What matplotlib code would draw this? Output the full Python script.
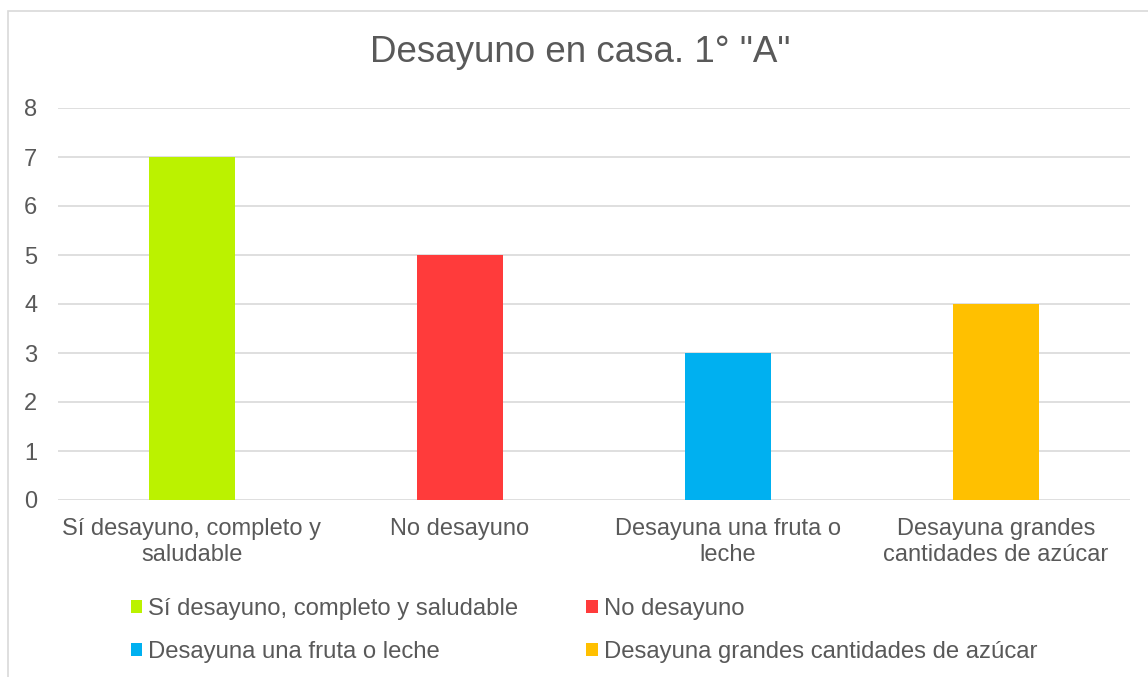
import matplotlib.pyplot as plt
from matplotlib.patches import Rectangle, Patch

# Datos
categorias = ["Sí desayuno, completo y saludable", "No desayuno",
              "Desayuna una fruta o leche", "Desayuna grandes cantidades de azúcar"]
etiquetas_x = ["Sí desayuno, completo y\nsaludable", "No desayuno",
               "Desayuna una fruta o\nleche", "Desayuna grandes\ncantidades de azúcar"]
valores = [7, 5, 3, 4]
colores = ["#BBF200", "#FF3B3B", "#00B0F0", "#FFC000"]

gris = "#595959"
plt.rcParams["font.family"] = ["Liberation Sans", "DejaVu Sans"]

fig = plt.figure(figsize=(11.48, 6.77), dpi=100)
ax = fig.add_axes([58 / 1148, 1 - 500 / 677, (1130 - 58) / 1148, (500 - 108) / 677])

x = list(range(len(valores)))
ax.bar(x, valores, width=0.32, color=colores, zorder=2)

ax.set_xlim(-0.5, len(valores) - 0.5)
ax.set_ylim(0, 8)
ax.set_yticks(range(0, 9))
ax.set_xticks(x)
ax.set_xticklabels(etiquetas_x, fontsize=17, color=gris, linespacing=1.22)
ax.tick_params(axis="y", length=0, pad=15, labelsize=17, labelcolor=gris)
ax.tick_params(axis="x", length=0, pad=13)
ax.yaxis.grid(True, color="#D9D9D9", linewidth=1.2, zorder=0)
for s in ax.spines.values():
    s.set_visible(False)

fig.text(580 / 1148, 1 - 52 / 677, 'Desayuno en casa. 1° "A"', ha="center", va="center",
         fontsize=26.5, color=gris)

# Leyenda
manejadores = [Patch(facecolor=c, edgecolor="none") for c in colores]
orden = [0, 2, 1, 3]
fig.legend([manejadores[i] for i in orden], [categorias[i] for i in orden],
           ncol=2, loc="center", bbox_to_anchor=(584 / 1148, 1 - 630.5 / 677),
           frameon=False, fontsize=17.2, labelcolor=gris,
           handlelength=0.48, handleheight=0.48, handletextpad=0.25,
           columnspacing=2.85, labelspacing=0.9)

# Borde del gráfico
fig.add_artist(Rectangle((8 / 1148, -0.1), 1.2, 1 - 11 / 677 + 0.1, transform=fig.transFigure,
                         fill=False, edgecolor="#D9D9D9", linewidth=1.2))

fig.savefig("out.png", dpi=100)
